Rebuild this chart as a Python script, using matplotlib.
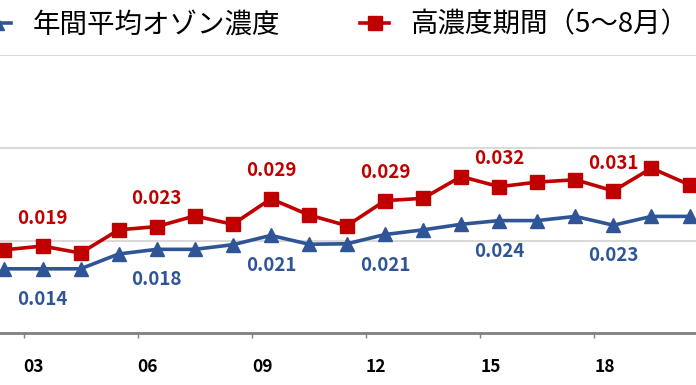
import matplotlib
matplotlib.use("Agg")
import matplotlib.pyplot as plt
from matplotlib.lines import Line2D

plt.rcParams['font.family'] = ['Noto Sans CJK JP', 'DejaVu Sans']

years = list(range(2002, 2021))
# 年間平均オゾン濃度 (ppm)
annual_avg = [0.0139, 0.0139, 0.0139, 0.0171, 0.0181, 0.0181, 0.0191, 0.0211, 0.0192, 0.0193,
              0.0213, 0.0223, 0.0235, 0.0243, 0.0243, 0.0252, 0.0233, 0.0252, 0.0252]
# 高濃度期間（5～8月）
high_period = [0.0180, 0.0188, 0.0173, 0.0223, 0.0230, 0.0253, 0.0235, 0.0290, 0.0255, 0.0232,
               0.0286, 0.0291, 0.0338, 0.0316, 0.0326, 0.0331, 0.0307, 0.0356, 0.0320]
label_years = [2003, 2006, 2009, 2012, 2015, 2018]
tick_labels = ['03', '06', '09', '12', '15', '18']

blue = '#2F5597'
red = '#C00000'

fig = plt.figure(figsize=(6.96, 3.85), dpi=100)
ax = fig.add_axes([0, 0.1343, 1, 0.7229])

ax.plot(years, annual_avg, color=blue, lw=2.6, marker='^', ms=9.5, zorder=3)
ax.plot(years, high_period, color=red, lw=2.6, marker='s', ms=9.5, zorder=3)

# data labels every 3 years
for y in label_years:
    i = years.index(y)
    ax.annotate(f'{high_period[i]:.3f}', (y, high_period[i]), xytext=(0, 20),
                textcoords='offset points', ha='center', va='center',
                color=red, fontsize=13.5, fontweight='bold')
    ax.annotate(f'{annual_avg[i]:.3f}', (y, annual_avg[i]), xytext=(0, -22),
                textcoords='offset points', ha='center', va='center',
                color=blue, fontsize=13.5, fontweight='bold')

ax.set_xlim(2001.882, 2020.17)
ax.set_ylim(0, 0.06)
ax.set_yticks([0.02, 0.04, 0.06])
ax.yaxis.grid(True, color='#D9D9D9', lw=1.5)
ax.set_axisbelow(True)
ax.tick_params(axis='y', left=False, labelleft=False)

ax.set_xticks([y - 0.23 for y in label_years])
ax.set_xticklabels(tick_labels, fontsize=12.5, fontweight='bold')
ax.tick_params(axis='x', which='major', length=0, pad=18)
ax.set_xticks([y - 0.5 for y in label_years], minor=True)
ax.tick_params(axis='x', which='minor', length=3.6, width=1, color='#7F7F7F', direction='out')

for s in ['top', 'left', 'right']:
    ax.spines[s].set_visible(False)
ax.spines['bottom'].set_color('#7F7F7F')
ax.spines['bottom'].set_linewidth(2)

handles = [Line2D([], [], color=blue, lw=2.6, marker='^', ms=9.5),
           Line2D([], [], color=red, lw=2.6, marker='s', ms=9.5)]
fig.legend(handles, ['年間平均オゾン濃度', '高濃度期間（5～8月）'], loc='center left',
           bbox_to_anchor=(-0.025, 0.935), ncol=2, frameon=False, fontsize=19.8,
           handlelength=1.05, handletextpad=0.78, columnspacing=2.9,
           borderpad=0, borderaxespad=0)

fig.savefig('out.png', dpi=100)
